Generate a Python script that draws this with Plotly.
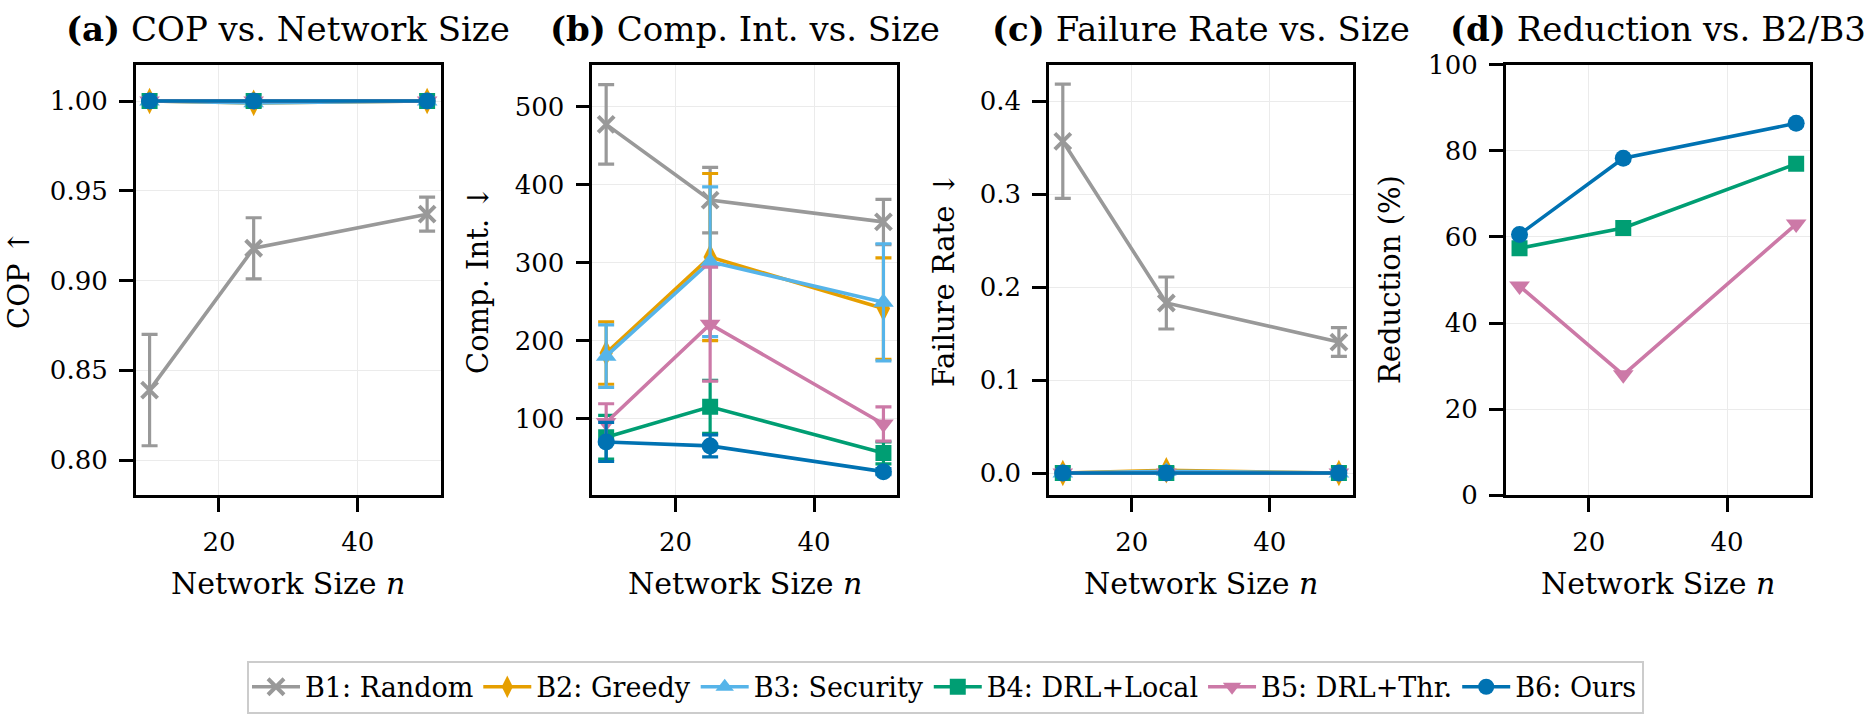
import plotly.graph_objects as go

sizes = [10, 25, 50]
names = ["B1: Random", "B2: Greedy", "B3: Security", "B4: DRL+Local", "B5: DRL+Thr.", "B6: Ours"]
colors = ["#999999", "#E69F00", "#56B4E9", "#009E73", "#CC79A7", "#0072B2"]
symbols = ["x-thin", "diamond-tall", "triangle-up", "square", "triangle-down", "circle"]
msizes = [16, 19, 18, 16, 18, 17]

# (a) COP
cop_mean = [
    [0.839, 0.918, 0.937],
    [1.000, 0.999, 1.000],
    [1.000, 0.999, 1.000],
    [1.000, 1.000, 1.000],
    [1.000, 1.000, 1.000],
    [1.000, 1.000, 1.000],
]
cop_err = [
    [0.031, 0.017, 0.0095],
    [0.001, 0.002, 0.001],
    [0.0, 0.001, 0.0],
    [0.0, 0.0, 0.0],
    [0.0, 0.0, 0.0],
    [0.0, 0.0, 0.0],
]
# (b) Computational intensity
ci_mean = [
    [477, 380, 352],
    [184, 307, 241],
    [180, 301, 249],
    [76, 115, 56],
    [95, 221, 93],
    [70, 65, 32],
]
ci_err = [
    [51, 42, 29],
    [40, 107, 65],
    [40, 96, 75],
    [28, 34, 14],
    [24, 73, 22],
    [25, 14, 4],
]
# (c) Failure rate
fr_mean = [
    [0.357, 0.183, 0.141],
    [0.0, 0.003, 0.0],
    [0.0, 0.002, 0.0],
    [0.0, 0.0, 0.0],
    [0.0, 0.0, 0.0],
    [0.0, 0.0, 0.0],
]
fr_err = [
    [0.0615, 0.028, 0.0155],
    [0.002, 0.003, 0.002],
    [0.0, 0.001, 0.0],
    [0.0, 0.0, 0.0],
    [0.0, 0.0, 0.0],
    [0.0, 0.0, 0.0],
]
# (d) Reduction vs. B2/B3 (%)
red_idx = [3, 4, 5]
red_vals = [
    [57.4, 62.1, 77.0],
    [48.6, 28.0, 63.0],
    [60.6, 78.3, 86.4],
]

titles = ["<b>(a)</b> COP vs. Network Size", "<b>(b)</b> Comp. Int. vs. Size",
          "<b>(c)</b> Failure Rate vs. Size", "<b>(d)</b> Reduction vs. B2/B3"]
ylabels = ["COP ↑", "Comp. Int. ↓", "Failure Rate ↓", "Reduction (%)"]

W, H = 1869, 714
FONT = "DejaVu Serif"
boxes_px = [(135.7, 441.0), (592.3, 897.3), (1049.0, 1352.7), (1505.7, 1810.0)]
ytop_px, ybot_px = 52.3, 504.3
ylabel_x_px = [19, 478, 944, 1390]

fig = go.Figure()

def add_series(ax, mean, err, show):
    for i in range(6):
        marker = dict(symbol=symbols[i], size=msizes[i], color=colors[i])
        if symbols[i] == "x-thin":
            marker["line"] = dict(width=4, color=colors[i])
        else:
            marker["line"] = dict(width=0)
        tr = dict(x=sizes, y=mean[i], mode="lines+markers", name=names[i],
                  line=dict(color=colors[i], width=3.6), marker=marker,
                  legendgroup=names[i], showlegend=show,
                  xaxis="x" + ("" if ax == 1 else str(ax)),
                  yaxis="y" + ("" if ax == 1 else str(ax)))
        if err is not None:
            tr["error_y"] = dict(type="data", array=err[i], visible=True,
                                 thickness=3.2, width=8, color=colors[i])
        fig.add_trace(go.Scatter(**tr))

add_series(1, cop_mean, cop_err, False)
add_series(2, ci_mean, ci_err, True)
add_series(3, fr_mean, fr_err, False)
for k, i in enumerate(red_idx):
    fig.add_trace(go.Scatter(
        x=sizes, y=red_vals[k], mode="lines+markers", name=names[i],
        line=dict(color=colors[i], width=3.6),
        marker=dict(symbol=symbols[i], size=msizes[i], color=colors[i], line=dict(width=0)),
        legendgroup=names[i], showlegend=False, xaxis="x4", yaxis="y4"))

yranges = [[0.7804, 1.0202], [1.7, 553.3], [-0.0239, 0.4393], [0, 100]]
ydticks = [0.05, 100, 0.1, 20]
ytick0 = [0.8, 0, 0, 0]
yfmt = [".2f", "d", ".1f", "d"]

common_axis = dict(showline=True, linecolor="black", linewidth=2.5, mirror=True,
                   ticks="outside", ticklen=14, tickwidth=2.5, tickcolor="black",
                   showgrid=True, gridcolor="#ebebeb", gridwidth=1, zeroline=False,
                   tickfont=dict(family=FONT, size=26, color="black"))

annotations = []
for k in range(4):
    x0, x1 = boxes_px[k]
    sfx = "" if k == 0 else str(k + 1)
    fig.layout["xaxis" + sfx] = dict(common_axis, domain=[x0 / W, x1 / W], range=[8, 52],
                                     tickvals=[20, 40], anchor="y" + sfx,
                                     ticklabelstandoff=8)
    fig.layout["yaxis" + sfx] = dict(common_axis, domain=[1 - ybot_px / H, 1 - ytop_px / H],
                                     range=yranges[k], dtick=ydticks[k], tick0=ytick0[k],
                                     tickformat=yfmt[k], anchor="x" + sfx,
                                     ticklabelstandoff=6)
    cx = (x0 + x1) / 2 / W
    annotations.append(dict(text=titles[k], x=cx, y=1 - 15 / H, xref="paper", yref="paper",
                            xanchor="center", yanchor="middle", showarrow=False,
                            font=dict(family=FONT, size=34, color="black")))
    annotations.append(dict(text="Network Size <i>n</i>", x=cx, y=1 - 597 / H,
                            xref="paper", yref="paper", xanchor="center", yanchor="middle",
                            showarrow=False, font=dict(family=FONT, size=30, color="black")))
    annotations.append(dict(text=ylabels[k], x=ylabel_x_px[k] / W,
                            y=1 - (ytop_px + ybot_px) / 2 / H, xref="paper", yref="paper",
                            xanchor="center", yanchor="middle", textangle=-90, showarrow=False,
                            font=dict(family=FONT, size=29, color="black")))

fig.update_layout(
    width=W, height=H, margin=dict(l=0, r=0, t=0, b=0),
    paper_bgcolor="white", plot_bgcolor="white",
    font=dict(family=FONT, color="black"),
    annotations=annotations,
    legend=dict(orientation="h", x=945.5 / W, xanchor="center", y=1 - 678 / H, yanchor="top",
                font=dict(family=FONT, size=27, color="black"),
                bordercolor="#cccccc", borderwidth=2, bgcolor="white",
                itemwidth=48, tracegroupgap=0),
)

fig.write_html("out.html")
